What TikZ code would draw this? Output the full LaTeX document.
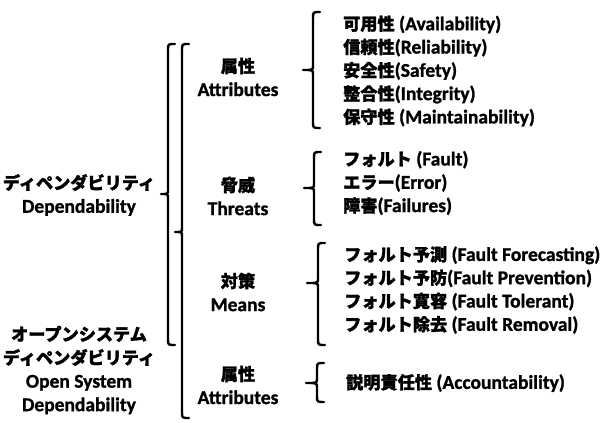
\documentclass[tikz,border=0pt]{standalone}
\usepackage{fontspec}
\setmainfont{Carlito}[BoldFeatures={FakeBold=1.2}]
\newfontfamily\jp{Noto Sans CJK JP}[Scale=0.88,BoldFeatures={FakeBold=1.5}]
\newcommand{\J}[1]{{\jp #1}}
\newcommand{\mybrace}[5]{%
  \draw[bracestyle] ({#1+7},#2) .. controls ({#1},#2) .. ({#1},{#2+6}) -- ({#1},{#3-4})
    .. controls ({#1},#3) .. ({#5},#3) .. controls ({#1},#3) .. ({#1},{#3+4})
    -- ({#1},{#4-6}) .. controls ({#1},#4) .. ({#1+7},#4);}
\begin{document}
\begin{tikzpicture}[x=1pt,y=-1pt,
  bracestyle/.style={line width=2.4pt,line cap=round,line join=round},
  lbl/.style={font=\fontsize{19.5}{23.5}\selectfont\bfseries,align=center,inner sep=0pt},
  items/.style={font=\fontsize{19.5}{23.3}\selectfont\bfseries,align=left,anchor=west,inner sep=0pt}]
\useasboundingbox (0,0) rectangle (603,423);
% left labels
\node[lbl] (dep) at (79,195) {\J{ディペンダビリティ}\\Dependability};
\node[lbl] (osd) at (79,370) {\J{オープンシステム}\\\J{ディペンダビリティ}\\Open System\\Dependability};
% middle labels
\node[lbl] (attr) at (238,77) {\J{属性}\\Attributes};
\node[lbl] (thr) at (238,196) {\J{脅威}\\Threats};
\node[lbl] (mea) at (238,292) {\J{対策}\\Means};
\node[lbl] (attr2) at (238,385) {\J{属性}\\Attributes};
% right items
\node[items] (i1) at (343,71) {\J{可用性} (Availability)\\\J{信頼性}(Reliability)\\\J{安全性}(Safety)\\\J{整合性}(Integrity)\\\J{保守性} (Maintainability)};
\node[items] (i2) at (343,183) {\J{フォルト} (Fault)\\\J{エラー}(Error)\\\J{障害}(Failures)};
\node[items] (i3) at (344,290) {\J{フォルト予測} (Fault Forecasting)\\\J{フォルト予防}(Fault Prevention)\\\J{フォルト寛容} (Fault Tolerant)\\\J{フォルト除去} (Fault Removal)};
\node[items] (i4) at (346,383) {\J{説明責任性} (Accountability)};
% big brackets
\mybrace{168}{44}{194}{345}{161}
\mybrace{182}{44}{232}{418}{175}
% right braces
\mybrace{313}{12}{70}{128}{303}
\mybrace{314}{152}{188}{225}{304}
\mybrace{318}{243}{283}{345}{307}
\mybrace{317}{363}{383}{402}{306}
\end{tikzpicture}
\end{document}
